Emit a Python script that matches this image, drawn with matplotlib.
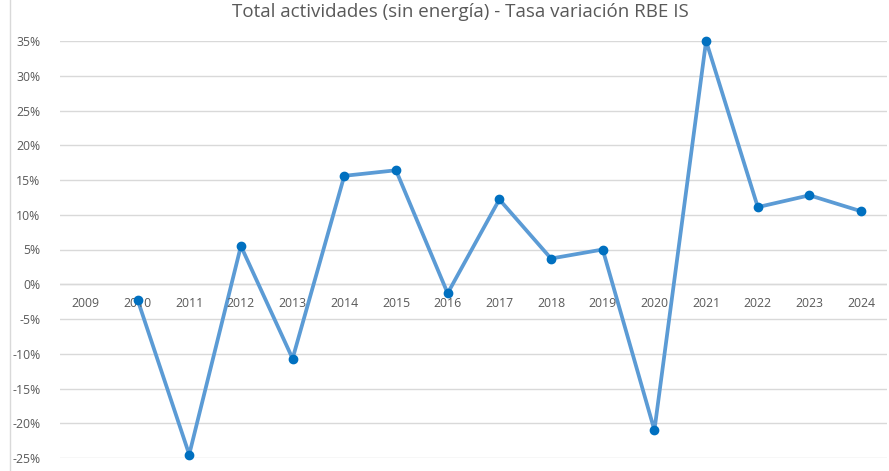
import matplotlib
matplotlib.use("Agg")
import matplotlib.pyplot as plt
import numpy as np
from matplotlib.lines import Line2D

years = [str(y) for y in range(2009, 2025)]
values = [np.nan, -2.2, -24.5, 5.5, -10.7, 15.6, 16.4, -1.3, 12.2, 3.7, 5.0,
          -21.0, 35.0, 11.1, 12.8, 10.5]
yticks = list(range(-25, 40, 5))
title = "Total actividades (sin energía) - Tasa variación RBE IS"

plt.rcParams['font.family'] = ['Open Sans', 'DejaVu Sans']
W, H = 889, 471
fig = plt.figure(figsize=(W / 100, H / 100), dpi=100)
ax = fig.add_axes([60 / W, 1 - 458 / H, (887 - 60) / W, (458 - 41) / H])

x = np.arange(len(years))
ax.plot(x, values, color="#5B9BD5", lw=2.7, zorder=3, clip_on=False)
ax.plot(x, values, linestyle="none", marker="o", ms=6, color="#0070C0",
        zorder=4, clip_on=False)

ax.set_xlim(-0.5, len(years) - 0.5)
ax.set_ylim(-25, 35)
ax.set_yticks(yticks)
ax.set_yticklabels([f"{t}%" for t in yticks], color="#595959", fontsize=8.8)
ax.tick_params(axis="y", length=0, pad=14)
ax.set_xticks([])
ax.grid(axis="y", color="#D9D9D9", lw=1)
ax.set_axisbelow(True)
for s in ax.spines.values():
    s.set_visible(False)
ax.axhline(0, color="#D9D9D9", lw=1, zorder=1)

for i, lab in enumerate(years):
    ax.annotate(lab, (i, 0), xytext=(0, -14), textcoords="offset points",
                ha="center", va="center", color="#595959", fontsize=8.8)

fig.text(460 / W, 1 - 12 / H, title, ha="center", va="center",
         color="#595959", fontsize=13.5)

fig.add_artist(Line2D([9.5 / W, 9.5 / W], [0, 1], color="#D9D9D9", lw=1,
                      transform=fig.transFigure))

fig.savefig("out.png", dpi=100)
